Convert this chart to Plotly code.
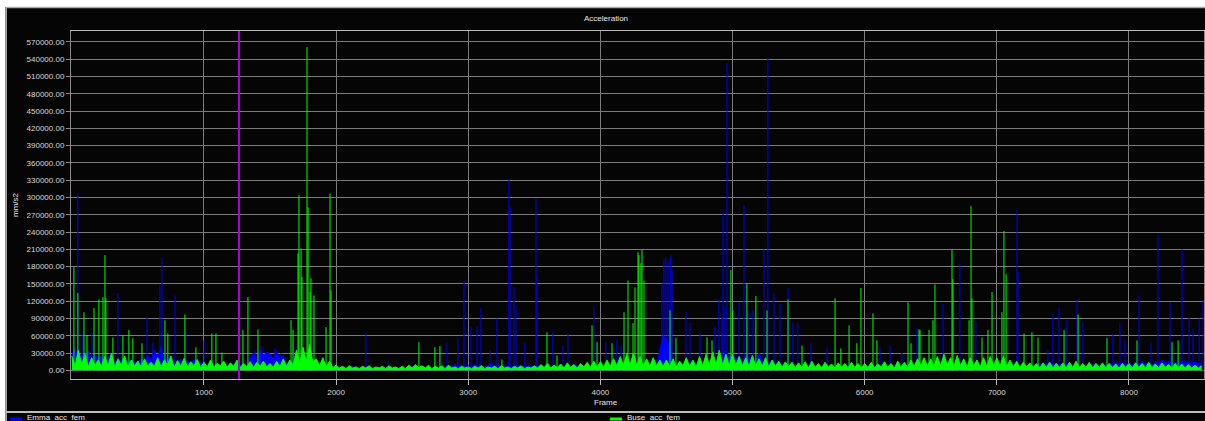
import plotly.graph_objects as go

# ---------------- data ----------------
base_step = 25  # baseline sampled every 25 frames, 0 .. 8550

emma_base = [
    25000,40000,18000,30000,22000,35000,15000,28000,20000,26000,14000,22000,30000,12000,20000,16000,25000,12000,18000,15000,
    14000,20000,12000,26000,18000,35000,22000,40000,16000,24000,12000,18000,14000,20000,11000,16000,13000,19000,10000,15000,
    12000,8000,14000,9000,11000,7000,13000,8000,10000,12000,7000,9000,11000,8000,22000,30000,18000,35000,25000,32000,
    28000,20000,34000,18000,26000,12000,9000,7000,10000,8000,12000,6000,9000,7000,5000,8000,6000,7000,5000,6000,
    4000,6000,3000,5000,4000,7000,3000,5000,4000,6000,3000,5000,4000,3000,5000,4000,6000,3000,4000,5000,
    4000,5000,3000,6000,4000,5000,3000,4000,6000,3000,5000,4000,7000,5000,8000,6000,10000,7000,9000,6000,
    8000,6000,10000,7000,9000,5000,8000,12000,7000,9000,6000,8000,5000,7000,6000,9000,5000,7000,6000,8000,
    5000,7000,4000,6000,8000,5000,7000,6000,9000,5000,8000,6000,10000,7000,9000,6000,12000,8000,10000,7000,
    9000,7000,11000,8000,10000,6000,12000,8000,9000,7000,10000,6000,8000,7000,9000,8000,12000,10000,35000,60000,
    55000,40000,12000,9000,14000,10000,12000,8000,15000,10000,13000,9000,16000,12000,20000,14000,28000,18000,35000,22000,
    30000,18000,25000,15000,28000,20000,22000,14000,30000,16000,20000,12000,18000,10000,15000,9000,12000,8000,10000,7000,
    9000,6000,8000,5000,7000,6000,9000,5000,8000,6000,7000,5000,6000,8000,5000,7000,6000,5000,7000,5000,
    6000,8000,5000,7000,6000,9000,5000,7000,8000,6000,9000,7000,10000,8000,12000,9000,14000,10000,12000,9000,
    11000,8000,13000,9000,12000,10000,14000,9000,12000,8000,11000,9000,13000,10000,12000,8000,10000,7000,9000,8000,
    10000,8000,12000,9000,15000,10000,12000,8000,11000,7000,9000,8000,10000,12000,9000,11000,14000,10000,12000,9000,
    11000,9000,13000,8000,10000,7000,9000,8000,11000,9000,12000,8000,10000,9000,12000,10000,14000,11000,13000,10000,
    12000,9000,14000,10000,16000,11000,13000,9000,15000,12000,18000,13000,16000,11000,14000,12000,17000,13000,15000,12000,14000,11000,13000,
]

buse_base = [
    25000,8000,35000,10000,28000,6000,22000,9000,18000,7000,24000,8000,30000,6000,20000,9000,25000,5000,18000,8000,
    16000,6000,20000,8000,14000,7000,22000,6000,18000,9000,25000,5000,17000,7000,21000,6000,15000,8000,19000,5000,
    14000,6000,18000,5000,12000,8000,16000,5000,13000,7000,18000,5000,12000,6000,15000,5000,14000,7000,16000,6000,
    12000,5000,16000,6000,20000,7000,18000,9000,35000,12000,40000,15000,45000,14000,20000,8000,22000,6000,16000,5000,
    9000,4000,7000,3000,8000,4000,6000,3000,7000,4000,8000,3000,6000,4000,7000,3000,8000,4000,6000,3000,
    7000,3000,9000,4000,10000,5000,8000,4000,9000,3000,7000,4000,8000,3000,9000,4000,6000,3000,7000,4000,
    6000,3000,7000,4000,8000,3000,6000,4000,7000,3000,8000,4000,6000,3000,7000,4000,8000,3000,6000,4000,
    8000,4000,10000,5000,12000,4000,9000,5000,11000,4000,13000,5000,10000,4000,12000,6000,14000,5000,16000,6000,
    15000,6000,18000,7000,20000,8000,24000,9000,28000,10000,30000,9000,24000,8000,20000,7000,22000,8000,18000,7000,
    18000,7000,20000,6000,16000,8000,22000,7000,18000,6000,24000,8000,28000,9000,32000,10000,35000,9000,28000,8000,
    28000,9000,24000,8000,22000,7000,26000,8000,20000,7000,22000,6000,18000,7000,16000,5000,15000,6000,14000,5000,
    13000,5000,15000,4000,16000,5000,12000,4000,14000,6000,11000,4000,13000,5000,12000,4000,14000,5000,12000,4000,
    12000,5000,14000,4000,11000,6000,15000,5000,12000,4000,16000,6000,14000,5000,18000,7000,20000,8000,22000,7000,
    20000,7000,24000,8000,28000,9000,22000,7000,26000,8000,20000,6000,22000,8000,18000,6000,22000,7000,24000,8000,
    22000,8000,24000,7000,18000,6000,16000,5000,14000,6000,13000,5000,12000,4000,13000,5000,14000,4000,12000,5000,
    13000,4000,14000,5000,16000,4000,12000,5000,14000,4000,12000,5000,13000,4000,12000,5000,11000,4000,12000,5000,
    12000,4000,13000,5000,12000,4000,14000,5000,11000,4000,13000,5000,10000,4000,12000,5000,11000,4000,10000,4000,9000,4000,8000,
]

emma_peak_frames = [46, 77, 152, 349, 569, 614, 667, 682, 781, 863, 1000, 1386, 1439, 1484, 1537, 1583, 1674,
                    2226, 2393, 2839, 2922, 2968, 3021, 3066, 3096, 3164, 3217, 3308, 3316, 3346, 3361, 3429,
                    3513, 3520, 3641, 3717, 3755, 3951, 4042, 4125, 4156, 4466, 4481, 4496, 4511, 4527, 4534,
                    4542, 4648, 4678, 4754, 4867, 4897, 4920, 4928, 4943, 4958, 5049, 5087, 5117, 5155, 5238,
                    5268, 5314, 5359, 5420, 5457, 5495, 5594, 5715, 6116, 6192, 6282, 6396, 6593, 6721, 6842,
                    7153, 7160, 7387, 7425, 7470, 7531, 7607, 7652, 7879, 7932, 7970, 8076, 8167, 8220, 8311,
                    8402, 8455, 8485, 8531, 8561]
emma_peak_values = [307000, 64000, 64000, 134000, 92000, 49000, 148000, 196000, 130000, 70000, 52000, 35000, 43000,
                    31000, 38000, 30000, 52000, 66000, 17000, 47000, 56000, 156000, 76000, 76000, 108000, 35000,
                    90000, 330000, 283000, 144000, 113000, 47000, 297000, 165000, 66000, 43000, 64000, 111000,
                    49000, 52000, 43000, 151000, 191000, 196000, 188000, 195000, 200000, 174000, 101000, 82000,
                    64000, 75000, 122000, 92000, 275000, 110000, 533000, 118000, 287000, 104000, 104000, 210000,
                    542000, 134000, 116000, 143000, 83000, 82000, 47000, 40000, 40000, 43000, 30000, 73000,
                    115000, 186000, 85000, 278000, 170000, 35000, 97000, 108000, 87000, 122000, 83000, 64000,
                    82000, 52000, 130000, 47000, 233000, 118000, 210000, 92000, 71000, 90000, 123000]

buse_peak_frames = [16, 46, 92, 115, 168, 205, 236, 251, 258, 311, 387, 432, 462, 531, 705, 727, 856, 939, 1060,
                    1091, 1136, 1295, 1333, 1409, 1659, 1674, 1712, 1719, 1735, 1742, 1780, 1788, 1803, 1810,
                    1833, 1924, 1954, 1962, 2627, 2748, 2786, 3255, 3596, 3672, 3937, 3975, 4088, 4179, 4209,
                    4247, 4262, 4285, 4292, 4307, 4315, 4330, 4527, 4572, 4807, 4845, 4988, 5003, 5109, 5177,
                    5261, 5420, 5526, 5776, 5820, 5882, 5941, 5972, 6063, 6093, 6328, 6351, 6411, 6419, 6487,
                    6517, 6532, 6661, 6668, 6790, 6805, 6812, 6888, 6933, 6964, 7039, 7054, 7070, 7206, 7266,
                    7312, 7509, 7615, 7834, 8061, 8326, 8372]
buse_peak_values = [179000, 134000, 101000, 61000, 108000, 123000, 127000, 200000, 125000, 57000, 61000, 70000,
                    56000, 47000, 87000, 64000, 97000, 40000, 64000, 64000, 31000, 70000, 127000, 71000, 87000,
                    70000, 203000, 304000, 212000, 162000, 561000, 283000, 136000, 160000, 130000, 75000,
                    307000, 139000, 49000, 40000, 42000, 19000, 66000, 26000, 78000, 49000, 47000, 101000,
                    156000, 82000, 144000, 205000, 200000, 186000, 209000, 156000, 104000, 56000, 57000,
                    52000, 174000, 104000, 151000, 129000, 104000, 123000, 43000, 125000, 38000, 78000, 47000,
                    143000, 99000, 52000, 118000, 47000, 71000, 70000, 70000, 87000, 149000, 209000, 158000,
                    87000, 285000, 125000, 57000, 70000, 136000, 101000, 242000, 167000, 64000, 66000, 57000,
                    70000, 97000, 56000, 52000, 49000, 52000]

marker_frame = 1265
y_ticks = list(range(0, 570001, 30000))
x_ticks = [1000, 2000, 3000, 4000, 5000, 6000, 7000, 8000]

series = [
    ("Emma_acc_fem", emma_base, emma_peak_frames, emma_peak_values, "#0000ff"),
    ("Buse_acc_fem", buse_base, buse_peak_frames, buse_peak_values, "#00ff00"),
]

# ---------------- figure ----------------
W, H = 1205, 421
L, R, T, B = 71, 1, 31, 42
pw, ph = W - L - R, H - T - B


def px(x):
    return (x - L) / pw


def py(y):
    return (H - B - y) / ph


fig = go.Figure()
for name, base, pf, pv, col in series:
    bx = [i * base_step for i in range(len(base))]
    fig.add_trace(go.Scatter(x=bx, y=base, mode="lines", name=name, line=dict(color=col, width=1),
                             fill="tozeroy", fillcolor=col, showlegend=False, hoverinfo="skip"))
    sx, sy = [], []
    for f, v in zip(pf, pv):
        sx += [f, f, None]
        sy += [0, v, None]
    fig.add_trace(go.Scatter(x=sx, y=sy, mode="lines", name=name, line=dict(color=col, width=1),
                             showlegend=False, connectgaps=False))

font = "Liberation Sans, Arial, sans-serif"
fig.update_layout(
    width=W, height=H,
    margin=dict(l=L, r=R, t=T, b=B, pad=0),
    paper_bgcolor="#050505", plot_bgcolor="#050505",
    showlegend=False,
    font=dict(family=font, size=8, color="#d8d8d8"),
    xaxis=dict(range=[-6, 8568], tickvals=x_ticks, showgrid=True, gridcolor="#7a7a7a", gridwidth=1,
               zeroline=False, showline=True, linecolor="#b8b8b8", linewidth=1, mirror=True,
               ticks="outside", ticklen=5, tickcolor="#b8b8b8", tickfont=dict(size=8, color="#d8d8d8")),
    yaxis=dict(range=[-15000, 589000], tickvals=y_ticks, tickformat=".2f", showgrid=True,
               gridcolor="#7a7a7a", gridwidth=1, zeroline=False, showline=True, linecolor="#8a8a8a",
               linewidth=1, mirror=True, ticks="outside", ticklen=4, tickcolor="#8a8a8a",
               tickfont=dict(size=8, color="#d8d8d8")),
)

shapes = [
    dict(type="line", xref="x", yref="paper", x0=marker_frame, x1=marker_frame, y0=0, y1=1,
         line=dict(color="#b000e0", width=2)),
    # white top strip and left strip + frame borders
    dict(type="rect", xref="paper", yref="paper", x0=px(0), x1=px(W), y0=py(7), y1=py(0),
         fillcolor="white", line=dict(width=0), layer="above"),
    dict(type="rect", xref="paper", yref="paper", x0=px(0), x1=px(5.5), y0=py(H), y1=py(0),
         fillcolor="white", line=dict(width=0), layer="above"),
    dict(type="line", xref="paper", yref="paper", x0=px(6), x1=px(W), y0=py(7.5), y1=py(7.5),
         line=dict(color="#a8a8a8", width=1.5), layer="above"),
    dict(type="line", xref="paper", yref="paper", x0=px(6.2), x1=px(6.2), y0=py(H), y1=py(7.5),
         line=dict(color="#a8a8a8", width=1.5), layer="above"),
    # legend separator
    dict(type="line", xref="paper", yref="paper", x0=px(6), x1=px(W), y0=py(412), y1=py(412),
         line=dict(color="#bcbcbc", width=2), layer="above"),
    # legend symbols
    dict(type="line", xref="paper", yref="paper", x0=px(10), x1=px(22), y0=py(419), y1=py(419),
         line=dict(color="#0000ff", width=3), layer="above"),
    dict(type="line", xref="paper", yref="paper", x0=px(610), x1=px(622), y0=py(419), y1=py(419),
         line=dict(color="#00ff00", width=3), layer="above"),
]
fig.update_layout(shapes=shapes)

ann = [
    dict(text="Acceleration", x=px(606), y=py(18), xref="paper", yref="paper", showarrow=False,
         font=dict(size=8, color="#e8e8e8"), xanchor="center", yanchor="middle"),
    dict(text="Frame", x=px(606), y=py(402), xref="paper", yref="paper", showarrow=False,
         font=dict(size=8, color="#e8e8e8"), xanchor="center", yanchor="middle"),
    dict(text="mm/s2", x=px(15), y=py(205), xref="paper", yref="paper", showarrow=False, textangle=-90,
         font=dict(size=8, color="#e8e8e8"), xanchor="center", yanchor="middle"),
    dict(text=series[0][0], x=px(25), y=py(417), xref="paper", yref="paper", showarrow=False,
         font=dict(size=8, color="#e8e8e8"), xanchor="left", yanchor="middle"),
    dict(text=series[1][0], x=px(625), y=py(417), xref="paper", yref="paper", showarrow=False,
         font=dict(size=8, color="#e8e8e8"), xanchor="left", yanchor="middle"),
]
fig.update_layout(annotations=ann)

fig.write_html("out.html")
